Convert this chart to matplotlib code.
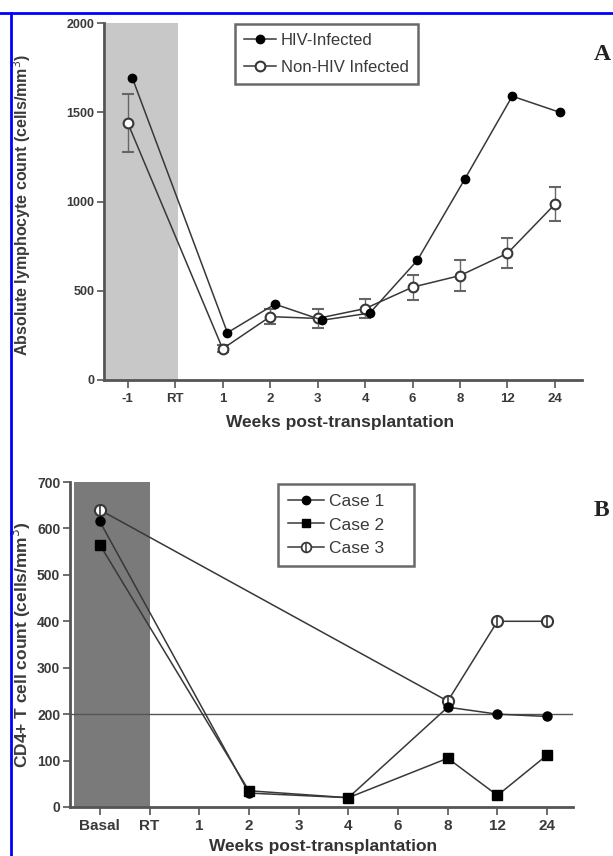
import matplotlib
matplotlib.use('Agg')
import matplotlib.pyplot as plt
from matplotlib.lines import Line2D
import numpy as np

plt.rcParams['font.family'] = ['Liberation Sans', 'DejaVu Sans']

# panel A: absolute lymphocyte count
weeks_a = ['-1', 'RT', '1', '2', '3', '4', '6', '8', '12', '24']
hiv_a = [1690, np.nan, 265, 425, 335, 375, 670, 1125, 1590, 1500]
nonhiv_a = [1440, np.nan, 175, 355, 345, 400, 520, 585, 710, 985]
nonhiv_err = [165, np.nan, 20, 40, 55, 55, 70, 85, 85, 95]

# panel B: CD4+ T cell count
weeks_b = ['Basal', 'RT', '1', '2', '3', '4', '6', '8', '12', '24']
case1 = [615, np.nan, np.nan, 30, np.nan, 20, np.nan, 215, 200, 195]
case2 = [565, np.nan, np.nan, 35, np.nan, 20, np.nan, 105, 25, 112]
case3 = [640, np.nan, np.nan, np.nan, np.nan, np.nan, np.nan, 228, 400, 400]

line_col = '#383838'
axis_col = '#555555'
text_col = '#3a3a3a'
W, H = 613, 856

fig = plt.figure(figsize=(W / 100, H / 100), dpi=100)


def style_axis(ax, labels, xsize, ysize):
    for s in ['top', 'right']:
        ax.spines[s].set_visible(False)
    for s in ['left', 'bottom']:
        ax.spines[s].set_linewidth(2)
        ax.spines[s].set_color(axis_col)
    ax.set_xticks(range(len(labels)))
    ax.set_xticklabels(labels, fontsize=xsize, fontweight='bold', color=text_col)
    ax.tick_params(axis='x', direction='out', length=6, width=1.2,
                   color=axis_col, pad=3)
    ax.tick_params(axis='y', direction='out', length=5, width=1.2,
                   color=axis_col, pad=2)
    for t in ax.get_yticklabels():
        t.set_fontweight('bold')
        t.set_color(text_col)
        t.set_fontsize(ysize)


def drop_nan(x, y):
    x = np.asarray(x, dtype=float)
    y = np.asarray(y, dtype=float)
    m = ~np.isnan(y)
    return x[m], y[m]


def frame_legend(leg):
    leg.get_frame().set_edgecolor('#444444')
    leg.get_frame().set_linewidth(1.8)
    for t in leg.get_texts():
        t.set_color(text_col)


# ---- panel A
axA = fig.add_axes([104 / W, 1 - 380 / H, (582 - 104) / W, (380 - 23) / H])
pos = np.arange(len(weeks_a))
axA.axvspan(-0.45, 1.05, color='#c8c8c8', zorder=0, lw=0)

xe, ye = drop_nan(pos, nonhiv_a)
_, ee = drop_nan(pos, nonhiv_err)
axA.errorbar(xe, ye, yerr=ee, color=line_col, lw=1.1, marker='o', ms=7,
             mfc='white', mec=line_col, mew=1.5, ecolor='#666666',
             elinewidth=1, capsize=4, zorder=3)
xh, yh = drop_nan(pos + 0.1, hiv_a)
axA.plot(xh, yh, color=line_col, lw=1.1, marker='o', ms=6, mfc='black',
         mec='black', zorder=4)

axA.set_xlim(-0.5, 9.57)
axA.set_ylim(0, 2000)
axA.set_yticks([0, 500, 1000, 1500, 2000])
style_axis(axA, weeks_a, 9.5, 9)
axA.set_ylabel('Absolute lymphocyte count (cells/mm$^3$)', fontsize=11.5,
               fontweight='bold', color=text_col, va='center')
axA.yaxis.set_label_coords(-0.172, 0.49)
axA.set_xlabel('Weeks post-transplantation', fontsize=12.5, fontweight='bold',
               color='#333333', va='center')
axA.xaxis.set_label_coords(0.494, -0.118)

hA = [Line2D([], [], color=line_col, lw=1.1, marker='o', ms=6, mfc='black',
             mec='black'),
      Line2D([], [], color=line_col, lw=1.1, marker='o', ms=7, mfc='white',
             mec=line_col, mew=1.5)]
legA = axA.legend(hA, ['HIV-Infected', 'Non-HIV Infected'], loc='upper left',
                  bbox_to_anchor=(235 / W, 1 - 24 / H),
                  bbox_transform=fig.transFigure, borderaxespad=0,
                  fancybox=False, fontsize=12, handlelength=1.9,
                  handletextpad=0.3, labelspacing=0.7, borderpad=0.55)
frame_legend(legA)

# ---- panel B
axB = fig.add_axes([70 / W, 1 - 807 / H, (573 - 70) / W, (807 - 482) / H])
pos = np.arange(len(weeks_b))
axB.axvspan(-0.52, 1.0, color='#7a7a7a', zorder=0, lw=0)
axB.axhline(200, color='#555555', lw=1, zorder=1)

x1, y1 = drop_nan(pos, case1)
x2, y2 = drop_nan(pos, case2)
x3, y3 = drop_nan(pos, case3)
axB.plot(x1, y1, color=line_col, lw=1.1, marker='o', ms=6.5, mfc='black',
         mec='black', zorder=4)
axB.plot(x2, y2, color=line_col, lw=1.1, marker='s', ms=6.5, mfc='black',
         mec='black', zorder=4)
axB.plot(x3, y3, color=line_col, lw=1.1, marker='o', ms=8, mfc='white',
         mec=line_col, mew=1.5, zorder=3)
axB.plot(x3, y3, ls='none', marker='|', ms=8, mec=line_col, mew=1.2, zorder=3)

axB.set_xlim(-0.6, 9.52)
axB.set_ylim(0, 700)
axB.set_yticks(range(0, 701, 100))
style_axis(axB, weeks_b, 11, 10)
axB.set_ylabel('CD4+ T cell count (cells/mm$^3$)', fontsize=12.5,
               fontweight='bold', color=text_col, va='center')
axB.yaxis.set_label_coords(-0.097, 0.5)
axB.set_xlabel('Weeks post-transplantation', fontsize=12.5, fontweight='bold',
               color='#333333', va='center')
axB.xaxis.set_label_coords(0.503, -0.123)

hB = [Line2D([], [], color=line_col, lw=1.1, marker='o', ms=6, mfc='black',
             mec='black'),
      Line2D([], [], color=line_col, lw=1.1, marker='s', ms=6, mfc='black',
             mec='black'),
      (Line2D([], [], color=line_col, lw=1.1, marker='o', ms=7, mfc='white',
              mec=line_col, mew=1.3),
       Line2D([], [], ls='none', marker='|', ms=7, mec=line_col, mew=1.1))]
legB = axB.legend(hB, ['Case 1    ', 'Case 2    ', 'Case 3    '],
                  loc='upper left',
                  bbox_to_anchor=(278 / W, 1 - 484 / H),
                  bbox_transform=fig.transFigure, borderaxespad=0,
                  fancybox=False, fontsize=12.5, handlelength=2.1,
                  handletextpad=0.3, labelspacing=0.5, borderpad=0.55)
frame_legend(legB)

# panel letters
fig.text(594 / W, 1 - 55 / H, 'A', family=['Liberation Serif', 'DejaVu Serif'],
         fontsize=17, fontweight='bold', va='center', color='#222222')
fig.text(594 / W, 1 - 510 / H, 'B', family=['Liberation Serif', 'DejaVu Serif'],
         fontsize=17, fontweight='bold', va='center', color='#222222')

# blue frame at top and left
fig.add_artist(Line2D([0, 1], [1 - 13 / H] * 2, color='#0000ff', lw=2,
                      transform=fig.transFigure))
fig.add_artist(Line2D([11 / W] * 2, [0, 1 - 13 / H], color='#0000ff', lw=2,
                      transform=fig.transFigure))

fig.savefig('out.png', dpi=100)
